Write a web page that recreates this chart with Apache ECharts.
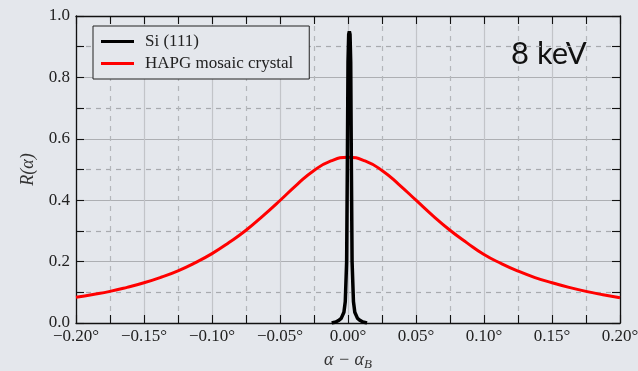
<!DOCTYPE html>
<html><head><meta charset="utf-8">
<script src="https://cdn.jsdelivr.net/npm/echarts@6/dist/echarts.min.js"></script>
<style>html,body{margin:0;padding:0;background:#e4e7ec}#c{width:638px;height:371px}</style>
</head><body><div id="c"></div>
<script>
// HAPG mosaic crystal reflectivity curve
const hapgX = [-0.2,-0.1875,-0.175,-0.1625,-0.15,-0.1375,-0.125,-0.1125,-0.1,-0.0875,-0.075,-0.0625,-0.05,-0.0375,-0.025,-0.0125,0,
  0.0125,0.025,0.0375,0.05,0.0625,0.075,0.0875,0.1,0.1125,0.125,0.1375,0.15,0.1625,0.175,0.1875,0.2];
const hapgY = [0.084,0.093,0.103,0.116,0.131,0.149,0.170,0.196,0.226,0.262,0.302,0.349,0.399,0.451,0.497,0.528,0.540,
  0.528,0.497,0.451,0.400,0.349,0.302,0.261,0.223,0.194,0.169,0.148,0.131,0.116,0.103,0.092,0.082];
// Si (111) reflectivity curve
const siX = [-0.012,-0.009,-0.007,-0.005,-0.003,-0.002,-0.001,-0.0005,0.0,0.0005,0.001,0.0015,0.002,0.0025,0.003,0.004,0.005,0.007,0.009,0.011,0.014];
const siY = [0.0,0.003,0.008,0.015,0.035,0.07,0.2,0.5,0.85,0.94,0.95,0.94,0.85,0.5,0.2,0.07,0.035,0.015,0.008,0.003,0.0];
const seriesNames = ['Si (111)', 'HAPG mosaic crystal'];
const annotation = '8 keV';

const serif = 'Liberation Serif';
const fmtX = v => (v < -1e-9 ? '\u2212' : '') + Math.abs(v).toFixed(2) + '\u00b0';
const chart = echarts.init(document.getElementById('c'));
const axisLine = {show: true, onZero: false, lineStyle: {color: '#111', width: 1.3}};
const tick = {show: true, inside: true, length: 8, lineStyle: {color: '#111', width: 1.1}};
const minor = {show: true, splitNumber: 2, length: 8, lineStyle: {color: '#111', width: 1.1}};
chart.setOption({
  backgroundColor: '#e4e7ec',
  animation: false,
  grid: {left: 76, right: 18, top: 16, bottom: 48, outerBoundsMode: 'none', containLabel: false},
  legend: {
    orient: 'vertical', left: 93, top: 26,
    data: seriesNames,
    borderColor: '#222', borderWidth: 1, backgroundColor: '#e4e7ec',
    padding: [7, 16, 7, 8], itemGap: 5,
    itemWidth: 33, itemHeight: 3, icon: 'rect',
    textStyle: {fontFamily: serif, fontSize: 17, color: '#222', padding: [0, 0, 0, 6]}
  },
  xAxis: [{
    type: 'value', min: -0.2, max: 0.2, interval: 0.05,
    name: '{i|\u03b1 \u2212 \u03b1}{s|B}', nameLocation: 'middle', nameGap: 27,
    nameTextStyle: {rich: {i: {fontFamily: serif, fontStyle: 'italic', fontSize: 18, color: '#333'},
      s: {fontFamily: serif, fontStyle: 'italic', fontSize: 13, color: '#333', padding: [8, 0, 0, 0]}}},
    axisLine: axisLine, axisTick: tick, minorTick: minor,
    axisLabel: {formatter: fmtX, fontFamily: serif, fontSize: 17, color: '#222', margin: 5, showMinLabel: true, showMaxLabel: true},
    splitLine: {show: true, lineStyle: {color: '#c2c4c8', width: 1.2}},
    minorSplitLine: {show: true, lineStyle: {color: '#b4b6ba', type: [5, 5], width: 1.2}}
  }, {
    type: 'value', position: 'top', min: -0.2, max: 0.2, interval: 0.05,
    axisLine: axisLine, axisTick: tick, minorTick: minor,
    axisLabel: {show: false}, splitLine: {show: false}
  }],
  yAxis: [{
    type: 'value', min: 0, max: 1, interval: 0.2,
    name: 'R(\u03b1)', nameLocation: 'middle', nameGap: 39, nameRotate: 90,
    nameTextStyle: {fontFamily: serif, fontStyle: 'italic', fontSize: 18, color: '#333'},
    axisLine: axisLine, axisTick: tick, minorTick: minor,
    axisLabel: {formatter: v => v.toFixed(1), fontFamily: serif, fontSize: 17, color: '#222', margin: 6, showMinLabel: true, showMaxLabel: true},
    splitLine: {show: true, lineStyle: {color: '#adafb3', width: 1.2}},
    minorSplitLine: {show: true, lineStyle: {color: '#a8aaae', type: [5, 5], width: 1.2}}
  }, {
    type: 'value', position: 'right', min: 0, max: 1, interval: 0.2,
    axisLine: axisLine, axisTick: tick, minorTick: minor,
    axisLabel: {show: false}, splitLine: {show: false}
  }],
  graphic: [{
    type: 'text', left: 511, top: 38,
    style: {text: annotation, fontFamily: 'Lato', fontSize: 31, fill: '#111'}
  }],
  series: [{
    name: seriesNames[0], type: 'line', z: 5, showSymbol: false, symbol: 'none',
    data: siX.map((x, i) => [x, siY[i]]),
    lineStyle: {color: '#000', width: 3.5}, itemStyle: {color: '#000'}
  }, {
    name: seriesNames[1], type: 'line', z: 4, showSymbol: false, symbol: 'none', smooth: true,
    data: hapgX.map((x, i) => [x, hapgY[i]]),
    lineStyle: {color: '#ff0000', width: 3}, itemStyle: {color: '#ff0000'}
  }]
});
</script></body></html>
